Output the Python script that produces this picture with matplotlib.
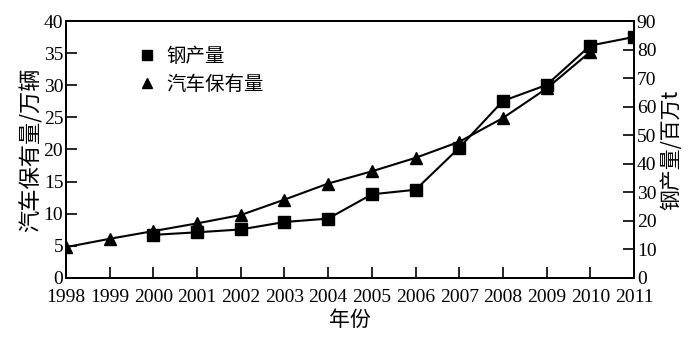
import matplotlib
matplotlib.use("Agg")
import matplotlib.pyplot as plt

years_car = [1998, 1999, 2000, 2001, 2002, 2003, 2004, 2005, 2006, 2007, 2008, 2009, 2010]
car = [4.8, 6.1, 7.3, 8.5, 9.8, 12.2, 14.7, 16.6, 18.7, 21.2, 24.9, 29.5, 35.2]
years_steel = [2000, 2001, 2002, 2003, 2004, 2005, 2006, 2007, 2008, 2009, 2010, 2011]
steel = [15.1, 16.0, 17.0, 19.6, 20.8, 29.3, 30.9, 45.6, 62.0, 67.6, 81.4, 84.4]
xticks = list(range(1998, 2012))

serif = ['Liberation Serif', 'DejaVu Serif']
cjk = ['Noto Sans CJK SC', 'DejaVu Sans']

fig = plt.figure(figsize=(7, 3.41), dpi=100)
ax = fig.add_axes([0.0943, 0.1848, 0.8114, 0.7536])
ax2 = ax.twinx()

l1, = ax.plot(years_car, car, color='black', lw=1.5, marker='^', markersize=9, zorder=3)
l2, = ax2.plot(years_steel, steel, color='black', lw=1.5, marker='s', markersize=9, zorder=3)

ax.set_xlim(1998, 2011)
ax.set_ylim(0, 40)
ax2.set_ylim(0, 90)
ax.set_xticks(xticks)
ax.set_xticklabels([str(y) for y in xticks], fontfamily=serif, fontsize=14)
ax.set_yticks(range(0, 41, 5))
ax.set_yticklabels([str(v) for v in range(0, 41, 5)], fontfamily=serif, fontsize=14)
ax2.set_yticks(range(0, 91, 10))
ax2.set_yticklabels([str(v) for v in range(0, 91, 10)], fontfamily=serif, fontsize=14)

ax.tick_params(axis='y', direction='in', length=8, width=1.2, pad=2)
ax.tick_params(axis='x', direction='in', length=8, width=1.2, pad=8)
ax2.tick_params(axis='y', direction='in', length=8, width=1.2, pad=2)
for a in (ax, ax2):
    for s in a.spines.values():
        s.set_linewidth(1.3)

ax.set_xlabel('年份', fontfamily=cjk, fontsize=15, labelpad=2)
ax.set_ylabel('汽车保有量/万辆', fontfamily=cjk, fontsize=16, labelpad=1)
ax2.set_ylabel('钢产量/百万t', fontfamily=cjk, fontsize=15, labelpad=3)

leg = ax.legend([l2, l1], ['钢产量', '汽车保有量'], loc='upper left',
                bbox_to_anchor=(0.095, 0.97), frameon=False,
                prop={'family': cjk, 'size': 14}, handlelength=1.0,
                handletextpad=0.5, labelspacing=0.35, markerscale=0.8)
for h in leg.legend_handles:
    h.set_linestyle('none')

fig.savefig('out.png', dpi=100)
